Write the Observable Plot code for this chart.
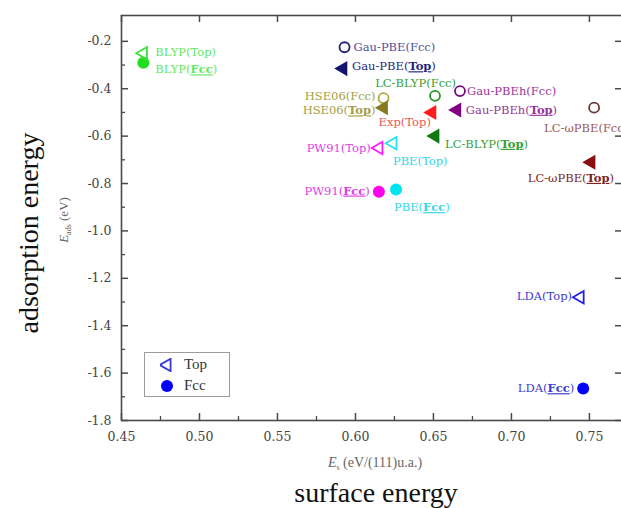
<!DOCTYPE html>
<html><head><meta charset="utf-8">
<script src="https://cdn.jsdelivr.net/npm/d3@7"></script>
<script src="https://cdn.jsdelivr.net/npm/@observablehq/plot@0.6"></script>
<style>
html,body{margin:0;padding:0;background:#fff;overflow:hidden;width:621px;height:508px}
#chart{position:relative;width:621px;height:508px;overflow:hidden}
#chart svg.plot, #chart svg{max-width:none}
.legend{position:absolute;box-sizing:border-box;border:1px solid #9c9c9c;background:#fff;font-family:"Liberation Serif",serif;font-size:15px;color:#333}
.legend .row{display:flex;align-items:center;height:21px}
.legend svg{display:block;margin:0 10px 0 15px}
</style></head><body><div id="chart"></div>
<script>
// ---- data ----
const methods = ["BLYP","BLYP","Gau-PBE","Gau-PBE","HSE06","HSE06","LC-BLYP","LC-BLYP","Exp","Gau-PBEh","Gau-PBEh","LC-ωPBE","LC-ωPBE","PW91","PW91","PBE","PBE","LDA","LDA"];
const sites = ["Top","Fcc","Fcc","Top","Fcc","Top","Fcc","Top","Top","Fcc","Top","Fcc","Top","Top","Fcc","Top","Fcc","Top","Fcc"];
const surfaceEnergy = [0.464,0.464,0.593,0.592,0.618,0.618,0.651,0.651,0.649,0.667,0.665,0.753,0.751,0.615,0.615,0.624,0.626,0.744,0.746];
const adsorptionEnergy = [-0.25,-0.29,-0.225,-0.315,-0.44,-0.48,-0.43,-0.60,-0.50,-0.41,-0.49,-0.48,-0.71,-0.65,-0.835,-0.63,-0.825,-1.28,-1.665];
const xTicks = [0.45,0.50,0.55,0.60,0.65,0.70,0.75];
const xMinor = [0.475,0.525,0.575,0.625,0.675,0.725];
const yTicks = [-1.8,-1.6,-1.4,-1.2,-1.0,-0.8,-0.6,-0.4,-0.2];
const yMinor = [-1.7,-1.5,-1.3,-1.1,-0.9,-0.7,-0.5,-0.3];
const legendItems = ["Top","Fcc"];

// ---- styles ----
const filledSite = {"BLYP":"Fcc","PW91":"Fcc","PBE":"Fcc","LDA":"Fcc","Gau-PBE":"Top","HSE06":"Top","LC-BLYP":"Top","Exp":"Top","Gau-PBEh":"Top","LC-ωPBE":"Top"};
const markerColor = {
  "BLYP|Top":"#3ee03e","BLYP|Fcc":"#22dd22",
  "Gau-PBE|Fcc":"#23237e","Gau-PBE|Top":"#14146e",
  "HSE06|Fcc":"#b3aa3c","HSE06|Top":"#857a1e",
  "LC-BLYP|Fcc":"#2a962a","LC-BLYP|Top":"#107a10",
  "Exp|Top":"#ff1c1c",
  "Gau-PBEh|Fcc":"#7a0a7a","Gau-PBEh|Top":"#800080",
  "LC-ωPBE|Fcc":"#6a3838","LC-ωPBE|Top":"#8a0e0e",
  "PW91|Top":"#ff1aff","PW91|Fcc":"#ff00ee",
  "PBE|Top":"#22e4ee","PBE|Fcc":"#00e4ee",
  "LDA|Top":"#2020ee","LDA|Fcc":"#0000ff"
};
const labelColor = {
  "BLYP":"#60ea60","Gau-PBE|Fcc":"#4e4e98","Gau-PBE|Top":"#25257e",
  "HSE06":"#a69e40","LC-BLYP":"#33a033","Exp":"#f25555","Gau-PBEh":"#983498",
  "LC-ωPBE|Fcc":"#9a5858","LC-ωPBE|Top":"#7c2424","PW91":"#e43ce4","PBE":"#36d6e6","LDA":"#3c3cd0"
};
const labelPlacement = { // [dx, dy, anchor]
  "BLYP|Top":[12,-1,"start"], "BLYP|Fcc":[12,7,"start"],
  "Gau-PBE|Fcc":[9,0,"start"], "Gau-PBE|Top":[9,-2,"start"],
  "HSE06|Fcc":[-8,-2,"end"], "HSE06|Top":[-8,3,"end"],
  "LC-BLYP|Fcc":[21,-13,"end"], "LC-BLYP|Top":[10,8,"start"],
  "Exp|Top":[-1,10,"end"],
  "Gau-PBEh|Fcc":[7,0,"start"], "Gau-PBEh|Top":[9,0,"start"],
  "LC-ωPBE|Fcc":[-50,21,"start"], "LC-ωPBE|Top":[23,16,"end"],
  "PW91|Top":[-8,0,"end"], "PW91|Fcc":[-9,-1,"end"],
  "PBE|Top":[0,18,"start"], "PBE|Fcc":[-2,18,"start"],
  "LDA|Top":[-8,-1,"end"], "LDA|Fcc":[-9,0,"end"]
};

const W = 623, H = 508, mL = 121, mR = 1, mT = 15, mB = 88;
const plotW = W - mL - mR, plotH = H - mT - mB;
const axisColor = "#4a4a4a";

const idx = d3.range(methods.length);
const key = i => methods[i] + "|" + sites[i];
const isFilled = i => sites[i] === filledSite[methods[i]];
const emph = i => isFilled(i) && methods[i] !== "Exp";
const lblColor = i => labelColor[key(i)] || labelColor[methods[i]];
const X = i => surfaceEnergy[i], Y = i => adsorptionEnergy[i];

const marks = [
  Plot.tickX(xTicks, {x: d => d, insetTop: plotH - 7, stroke: axisColor, strokeWidth: 1.5}),
  Plot.tickX(xMinor, {x: d => d, insetTop: plotH - 4, stroke: axisColor, strokeWidth: 1.3}),
  Plot.tickX(xTicks, {x: d => d, insetBottom: plotH - 7, stroke: axisColor, strokeWidth: 1.5}),
  Plot.tickY(yTicks, {y: d => d, insetRight: plotW - 7, stroke: axisColor, strokeWidth: 1.5}),
  Plot.tickY(yMinor, {y: d => d, insetRight: plotW - 4, stroke: axisColor, strokeWidth: 1.3}),
  Plot.tickY(yTicks, {y: d => d, insetLeft: plotW - 7, stroke: axisColor, strokeWidth: 1.5}),
  Plot.axisX(xTicks, {tickSize: 0, tickPadding: 12, tickFormat: d => d.toFixed(2), label: null, fill: "#444", fontSize: 12.5}),
  Plot.axisY(yTicks, {tickSize: 0, tickPadding: 10, tickFormat: d => d.toFixed(1), label: null, fill: "#444", fontSize: 12.5}),
  Plot.frame({stroke: axisColor, strokeWidth: 1.6}),
  // open circles
  Plot.dot(idx.filter(i => sites[i] === "Fcc" && !isFilled(i)), {x: X, y: Y, r: 5, fill: "none", stroke: i => markerColor[key(i)], strokeWidth: 1.8}),
  // filled circles
  Plot.dot(idx.filter(i => sites[i] === "Fcc" && isFilled(i)), {x: X, y: Y, r: 6, fill: i => markerColor[key(i)], stroke: "none"}),
  // open triangles
  Plot.dot(idx.filter(i => sites[i] === "Top" && !isFilled(i)), {x: X, y: Y, r: 4.6, symbol: "triangle", rotate: -90, fill: "none", stroke: i => markerColor[key(i)], strokeWidth: 1.8}),
  // filled triangles
  Plot.dot(idx.filter(i => sites[i] === "Top" && isFilled(i)), {x: X, y: Y, r: 5.6, symbol: "triangle", rotate: -90, fill: i => markerColor[key(i)], stroke: "none"}),
  // labels
  ...idx.map(i => {
    const [dx, dy, anchor] = labelPlacement[key(i)];
    return Plot.text([i], {x: X, y: Y, text: i => methods[i] + "(" + sites[i] + ")", dx, dy, textAnchor: anchor,
      fill: lblColor(i), fontSize: 11.5, fontFamily: "'DejaVu Serif', serif"});
  })
];

const plot = Plot.plot({
  width: W, height: H,
  marginLeft: mL, marginRight: mR, marginTop: mT, marginBottom: mB,
  x: {domain: [0.45, 0.7712], axis: null},
  y: {domain: [-1.8, -0.091], axis: null},
  color: {type: "identity"},
  style: {fontFamily: "'DejaVu Serif', serif", fontSize: "12.5px", background: "#fff", color: "#444", overflow: "hidden"},
  marks
});

const chart = document.getElementById("chart");
chart.appendChild(plot);
const svg = d3.select(plot);

// emphasise the site of selected labels (bold + underline)
const emphLabels = new Set(idx.filter(emph).map(i => methods[i] + "(" + sites[i] + ")"));
svg.selectAll("text").each(function () {
  const t = this.textContent;
  if (this.children.length === 0 && emphLabels.has(t)) {
    const m = t.match(/^(.*)\((Top|Fcc)\)$/);
    const s = d3.select(this);
    s.text(null);
    s.append("tspan").text(m[1] + "(");
    s.append("tspan").attr("font-weight", "bold").attr("text-decoration", "underline").text(m[2]);
    s.append("tspan").text(")");
  }
});

// axis titles
const serif = "'Liberation Serif', 'Times New Roman', serif";
svg.append("text").attr("transform", "translate(38,233) rotate(-90)")
  .attr("text-anchor", "middle").attr("font-family", serif).attr("font-size", 28).attr("fill", "#111")
  .text("adsorption energy");
const ys = svg.append("text").attr("transform", "translate(68,220) rotate(-90)")
  .attr("text-anchor", "middle").attr("font-family", serif).attr("font-size", 13).attr("fill", "#666");
ys.append("tspan").attr("font-style", "italic").text("E");
ys.append("tspan").attr("font-size", 8).attr("dy", 3).text("ads");
ys.append("tspan").attr("dy", -3).text(" (eV)");
const xs = svg.append("text").attr("transform", "translate(375,467)")
  .attr("text-anchor", "middle").attr("font-family", serif).attr("font-size", 14).attr("fill", "#666");
xs.append("tspan").attr("font-style", "italic").text("E");
xs.append("tspan").attr("font-size", 8).attr("dy", 3).text("s");
xs.append("tspan").attr("dy", -3).text(" (eV/(111)u.a.)");
svg.append("text").attr("transform", "translate(376,502)")
  .attr("text-anchor", "middle").attr("font-family", serif).attr("font-size", 28).attr("fill", "#111")
  .text("surface energy");

// legend
const legend = d3.select(chart).append("div").attr("class", "legend")
  .style("left", "144px").style("top", "352px").style("width", "86px").style("height", "45px")
  .style("padding-top", "1px");
legendItems.forEach(site => {
  const row = legend.append("div").attr("class", "row");
  const s = row.append("svg").attr("width", 14).attr("height", 14);
  if (site === "Top") {
    s.append("path").attr("d", d3.symbol(d3.symbolTriangle, Math.PI * 4.6 * 4.6)())
      .attr("transform", "translate(7,7) rotate(-90)").attr("fill", "none").attr("stroke", "#3535d5").attr("stroke-width", 1.8);
  } else {
    s.append("circle").attr("cx", 7).attr("cy", 7).attr("r", 6).attr("fill", "#0000ff");
  }
  row.append("span").text(site);
});
</script>
</body></html>
